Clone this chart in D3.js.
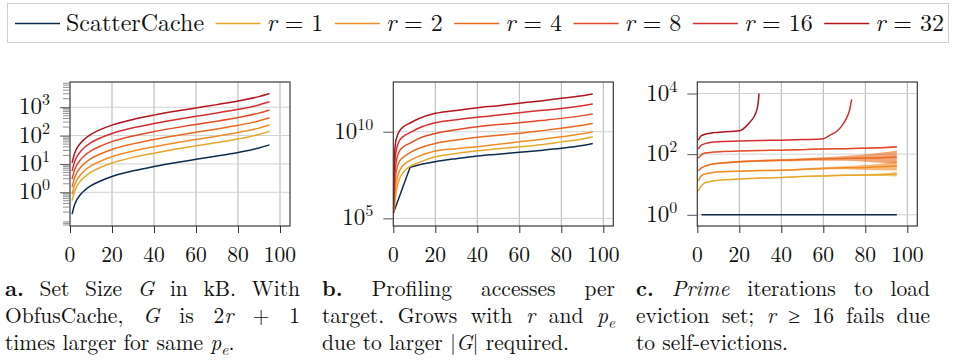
<!DOCTYPE html>
<html>
<head>
<meta charset="utf-8">
<script src="https://cdn.jsdelivr.net/npm/d3@7"></script>
<style>
  body { margin: 0; background: #fff; }
  svg { display: block; }
</style>
</head>
<body>
<svg id="chart" width="956" height="362"></svg>
<script>
// ---------- series & ticks ----------
const seriesNames  = ["ScatterCache", "r = 1", "r = 2", "r = 4", "r = 8", "r = 16", "r = 32"];
const seriesColors = ["#0c2c4e", "#e6a82a", "#ef8c24", "#ea6a1e", "#e24a28", "#d42e2e", "#b3141d"];
const xTicks = [0, 20, 40, 60, 80, 100];

// (a) set size G in kB
const setSizeX       = [1, 2, 3, 5, 7, 10, 15, 20, 30, 40, 50, 60, 70, 80, 90, 95];
const setSizeScatter = [0.17, 0.33, 0.5, 0.83, 1.17, 1.7, 2.6, 3.6, 5.7, 8.1, 11, 14.5, 19, 25.5, 36.5, 47];
const setSizeR1      = [0.51, 1.0, 1.5, 2.5, 3.5, 5.1, 7.8, 10.8, 17, 24, 33, 43.5, 57, 76, 110, 141];
const setSizeR2      = [0.85, 1.65, 2.5, 4.15, 5.85, 8.5, 13, 18, 28.5, 40.5, 55, 72.5, 95, 128, 183, 235];
const setSizeR4      = [1.53, 2.97, 4.5, 7.5, 10.5, 15.3, 23.4, 32.4, 51, 73, 99, 130, 171, 230, 329, 423];
const setSizeR8      = [2.9, 5.6, 8.5, 14.1, 19.9, 28.9, 44, 61, 97, 138, 187, 247, 323, 434, 620, 800];
const setSizeR16     = [5.6, 10.9, 16.5, 27.4, 38.6, 56, 86, 119, 188, 267, 363, 479, 627, 842, 1205, 1550];
const setSizeR32     = [11, 21.5, 32.5, 54, 76, 110, 169, 234, 370, 527, 715, 943, 1235, 1660, 2370, 3055];
const setSizeTicks   = [1, 10, 100, 1000];

// (b) profiling accesses per target
const profScatterX = [0, 8, 12, 20, 30, 40, 50, 60, 70, 80, 90, 95];
const profScatter  = [1.95e5, 8.9e7, 1.2e8, 1.86e8, 2.8e8, 4.0e8, 5.1e8, 6.5e8, 8.3e8, 1.1e9, 1.6e9, 2.1e9];
const profX   = [0, 0.5, 1, 2, 3, 5, 8, 12, 20, 30, 40, 50, 60, 70, 80, 90, 95];
const profR1  = [2.0e5, 4.0e5, 1.6e6, 7.9e6, 2.0e7, 5.0e7, 1.0e8, 1.66e8, 3.6e8, 5.6e8, 7.9e8, 1.05e9, 1.35e9, 1.8e9, 2.6e9, 3.8e9, 5.1e9];
const profR2  = [2.0e5, 7.9e5, 5.0e6, 2.5e7, 5.6e7, 1.26e8, 2.2e8, 3.8e8, 7.8e8, 1.05e9, 1.35e9, 1.9e9, 2.6e9, 3.6e9, 5.1e9, 7.6e9, 1.0e10];
const profR4  = [2.0e5, 2.5e6, 2.0e7, 1.0e8, 2.0e8, 3.5e8, 6.3e8, 1.07e9, 2.1e9, 3.3e9, 4.8e9, 6.3e9, 8.1e9, 1.12e10, 1.6e10, 2.4e10, 3.0e10];
const profR8  = [2.0e5, 1.0e7, 7.9e7, 4.0e8, 7.9e8, 1.4e9, 2.2e9, 4.0e9, 7.9e9, 1.3e10, 1.95e10, 2.6e10, 3.3e10, 4.4e10, 5.9e10, 8.5e10, 1.05e11];
const profR16 = [2.0e5, 5.0e7, 4.0e8, 1.6e9, 3.2e9, 5.6e9, 8.9e9, 1.6e10, 3.3e10, 4.9e10, 6.8e10, 9.1e10, 1.26e11, 1.66e11, 2.2e11, 3.2e11, 4.0e11];
const profR32 = [2.0e5, 2.5e8, 2.0e9, 6.3e9, 1.12e10, 2.0e10, 3.2e10, 5.6e10, 1.15e11, 1.7e11, 2.4e11, 3.2e11, 4.4e11, 6.0e11, 8.5e11, 1.2e12, 1.5e12];
const profTicks = [1e5, 1e10];

// (c) prime iterations to load the eviction set (with spread of the noisy runs)
const primeScatterX = [2, 20, 40, 60, 80, 95];
const primeScatter  = [1, 1, 1, 1, 1, 1];
const primeX   = [0.5, 1.5, 3, 5, 8, 12, 20, 30, 40, 50, 60, 70, 80, 90, 95];
const primeR1  = [6.0, 8.3, 10.7, 12.0, 13.2, 14.1, 15.1, 16.2, 17.0, 18.2, 19.1, 20.0, 20.4, 21.4, 21.9];
const primeR2  = [13, 18, 21.4, 23.4, 25.1, 26.3, 27.5, 28.8, 29.5, 31.6, 33.9, 35.5, 36.3, 38.9, 40.7];
const primeR4  = [28, 33, 38, 43, 47.9, 51.3, 56.2, 60.3, 63.1, 66.1, 69.2, 72.4, 74.1, 77.6, 81.3];
const primeR8  = [72, 91, 105, 112, 117, 123, 126, 132, 135, 141, 148, 151, 158, 166, 174];
const primeSpreadR1 = [1, 1, 1, 1, 1.01, 1.02, 1.03, 1.03, 1.04, 1.04, 1.05, 1.06, 1.08, 1.12, 1.2];
const primeSpreadR2 = [1, 1, 1, 1.01, 1.02, 1.03, 1.04, 1.05, 1.06, 1.07, 1.09, 1.12, 1.2, 1.32, 1.42];
const primeSpreadR4 = [1, 1, 1.01, 1.03, 1.04, 1.05, 1.07, 1.08, 1.09, 1.11, 1.14, 1.2, 1.32, 1.52, 1.62];
const primeSpreadR8 = [1, 1, 1, 1, 1.01, 1.01, 1.02, 1.02, 1.02, 1.03, 1.03, 1.04, 1.05, 1.06, 1.07];
const primeR16X = [0.5, 1.5, 3, 5, 8, 12, 20, 30, 40, 50, 60, 63, 67, 69, 71, 72.5, 73.5];
const primeR16  = [148, 186, 214, 234, 251, 263, 269, 282, 288, 302, 324, 417, 617, 891, 1514, 2818, 6457];
const primeR32X = [0.5, 1.5, 3, 5, 8, 12, 16, 20, 20.5, 23, 25, 27.5, 28.5, 29, 29.4];
const primeR32  = [288, 380, 437, 479, 513, 537, 562, 589, 603, 794, 1122, 1995, 3162, 5012, 10000];
const primeTicks = [1, 100, 10000];

// captions (markup: **bold**, *italic*, _x subscript)
const captionA = ["**a.** Set Size *G* in kB. With", "ObfusCache, *G* is 2*r* + 1", "times larger for same *p*_e."];
const captionB = ["**b.** Profiling accesses per", "target. Grows with *r* and *p*_e", "due to larger |*G*| required."];
const captionC = ["**c.** *Prime* iterations to load", "eviction set; *r* ≥ 16 fails due", "to self-evictions."];

// ---------- layout ----------
const FONT = "Latin Modern Roman";
const svg = d3.select("#chart");
const plotTop = 82, plotBottom = 226, plotWidth = 220;
const xDomain = [0, 220 / 2.1];
const CAP_SIZE = 21.5, LEG_SIZE = 24, TICK_SIZE = 21.5, YLAB_SIZE = 23;
const legendLeft = 15, legendRight = 944;

// ---------- rich text helpers ----------
function parseRich(str) {
  const re = /(\*\*[^*]+\*\*|\*[^*]+\*|_[a-z])/g;
  return str.split(re).filter(p => p !== "").map(p => {
    if (p.startsWith("**")) return { t: p.slice(2, -2), s: "b" };
    if (p.startsWith("*"))  return { t: p.slice(1, -1), s: "i" };
    if (p.startsWith("_"))  return { t: p.slice(1), s: "sub" };
    return { t: p, s: "" };
  });
}
// append styled tspans for one word; the first tspan may be placed absolutely
function addSegs(t, segs, size, pos) {
  let shift = 0;
  segs.forEach((sg, k) => {
    const ts = t.append("tspan").text(sg.t);
    if (k === 0 && pos) ts.attr("x", pos.x).attr("y", pos.y);
    let target = 0;
    if (sg.s === "b") ts.attr("font-weight", "bold");
    if (sg.s === "i") ts.attr("font-style", "italic");
    if (sg.s === "sub") { ts.attr("font-style", "italic").attr("font-size", size * 0.72); target = size * 0.22; }
    if (target !== shift) { ts.attr("dy", target - shift); shift = target; }
  });
}
function newText(parent, size) {
  return parent.append("text").attr("font-size", size).attr("font-family", FONT).attr("fill", "#111");
}
function measure(segs, size) {
  const t = newText(svg, size);
  addSegs(t, segs, size, null);
  const w = t.node().getComputedTextLength();
  t.remove();
  return w;
}

// ---------- legend ----------
const legend = svg.append("g");
legend.append("rect").attr("x", 7.5).attr("y", 3.5).attr("width", 941).attr("height", 39)
  .attr("fill", "none").attr("stroke", "#cfcfcf").attr("stroke-width", 1);
const legendSegs = seriesNames.map(n => parseRich(n.startsWith("r ") ? "*r*" + n.slice(1) : n));
const legendW = legendSegs.map(s => measure(s, LEG_SIZE));
const legendGap = (legendRight - legendLeft - d3.sum(legendW) - seriesNames.length * 51) / (seriesNames.length - 1);
let lx = legendLeft;
legendSegs.forEach((segs, i) => {
  legend.append("line").attr("x1", lx).attr("x2", lx + 45).attr("y1", 23.5).attr("y2", 23.5)
    .attr("stroke", seriesColors[i]).attr("stroke-width", 1.5);
  addSegs(newText(legend, LEG_SIZE), segs, LEG_SIZE, { x: lx + 51, y: 31 });
  lx += 51 + legendW[i] + legendGap;
});

// ---------- panels ----------
function powLabel(parent, x, y, exp) {
  const t = newText(parent, YLAB_SIZE).attr("x", x).attr("y", y).attr("text-anchor", "end");
  t.append("tspan").text("10");
  t.append("tspan").text(String(exp)).attr("font-size", 16).attr("dy", -9);
}

function drawPanel(cfg) {
  const x = d3.scaleLinear().domain(xDomain).range([cfg.left, cfg.left + plotWidth]);
  const y = d3.scaleLog().domain(cfg.yDomain).range([plotBottom, plotTop]);
  const g = svg.append("g");
  const clipId = "clip-" + cfg.key;
  g.append("clipPath").attr("id", clipId).append("rect")
    .attr("x", cfg.left).attr("y", plotTop).attr("width", plotWidth).attr("height", plotBottom - plotTop);

  // grid
  g.selectAll(null).data(xTicks.filter(v => v > 0)).join("line")
    .attr("x1", d => x(d)).attr("x2", d => x(d)).attr("y1", plotTop).attr("y2", plotBottom)
    .attr("stroke", "#b4b4b4").attr("stroke-width", 1);
  g.selectAll(null).data(cfg.major).join("line")
    .attr("x1", cfg.left).attr("x2", cfg.left + plotWidth).attr("y1", d => y(d)).attr("y2", d => y(d))
    .attr("stroke", "#d2d2d2").attr("stroke-width", 1);

  const plot = g.append("g").attr("clip-path", `url(#${clipId})`);

  // spread bands
  (cfg.bands || []).forEach(b => {
    const pts = b.x.map((xv, i) => ({ x: xv, lo: b.y[i] / b.s[i], hi: b.y[i] * b.s[i] }));
    plot.append("path").datum(pts)
      .attr("d", d3.area().x(d => x(d.x)).y0(d => y(d.lo)).y1(d => y(d.hi)).curve(d3.curveMonotoneX))
      .attr("fill", b.color).attr("opacity", 0.6);
  });

  // lines
  cfg.series.forEach(s => {
    const pts = s.x.map((xv, i) => ({ x: xv, y: s.y[i] }));
    plot.append("path").datum(pts)
      .attr("d", d3.line().x(d => x(d.x)).y(d => y(d.y)).curve(s.linear ? d3.curveLinear : d3.curveMonotoneX))
      .attr("fill", "none").attr("stroke", s.color).attr("stroke-width", 1.5);
  });

  // frame
  g.append("rect").attr("x", cfg.left).attr("y", plotTop).attr("width", plotWidth).attr("height", plotBottom - plotTop)
    .attr("fill", "none").attr("stroke", "#3a3a3a").attr("stroke-width", 1.2);

  // x axis ticks and labels
  const xa = g.append("g").attr("transform", `translate(0,${plotBottom})`)
    .call(d3.axisBottom(x).tickValues(xTicks).tickSize(7).tickFormat(""))
    .attr("color", "#333");
  xa.select(".domain").remove();
  g.selectAll(null).data(xTicks).join("text")
    .attr("x", d => x(d)).attr("y", 261.5).attr("text-anchor", "middle")
    .attr("font-size", TICK_SIZE).attr("font-family", FONT).attr("fill", "#111")
    .text(d => d);

  // y axis ticks
  const ya = g.append("g").attr("transform", `translate(${cfg.left},0)`)
    .call(d3.axisLeft(y).tickValues(cfg.major).tickSize(10).tickFormat(""))
    .attr("color", "#555");
  ya.select(".domain").remove();
  if (cfg.minor) {
    const minor = [];
    for (let k = -2; k <= 4; k++) for (let m = 2; m <= 9; m++) {
      const v = m * Math.pow(10, k);
      if (v > cfg.yDomain[0] && v < cfg.yDomain[1]) minor.push(v);
    }
    g.selectAll(null).data(minor).join("line")
      .attr("x1", cfg.left - 7).attr("x2", cfg.left).attr("y1", d => y(d)).attr("y2", d => y(d))
      .attr("stroke", "#777").attr("stroke-width", 0.8);
  }
  cfg.major.forEach(v => powLabel(g, cfg.left - 20, y(v) + 7, Math.round(Math.log10(v))));
}

drawPanel({
  key: "a", left: 70, yDomain: [Math.pow(10, -1.19), Math.pow(10, 3.89)], major: setSizeTicks, minor: true,
  series: [setSizeScatter, setSizeR1, setSizeR2, setSizeR4, setSizeR8, setSizeR16, setSizeR32]
    .map((v, i) => ({ x: setSizeX, y: v, color: seriesColors[i] }))
});

drawPanel({
  key: "b", left: 393.3, yDomain: [Math.pow(10, 4.56), Math.pow(10, 12.87)], major: profTicks, minor: false,
  series: [{ x: profScatterX.slice(0, 2), y: profScatter.slice(0, 2), color: seriesColors[0], linear: true },
           { x: profScatterX.slice(1), y: profScatter.slice(1), color: seriesColors[0] }]
    .concat([profR1, profR2, profR4, profR8, profR16, profR32].map((v, i) => ({ x: profX, y: v, color: seriesColors[i + 1] })))
});

drawPanel({
  key: "c", left: 697.3, yDomain: [Math.pow(10, -0.37), Math.pow(10, 4.38)], major: primeTicks, minor: false,
  bands: [
    { x: primeX, y: primeR1, s: primeSpreadR1, color: seriesColors[1] },
    { x: primeX, y: primeR2, s: primeSpreadR2, color: seriesColors[2] },
    { x: primeX, y: primeR4, s: primeSpreadR4, color: seriesColors[3] },
    { x: primeX, y: primeR8, s: primeSpreadR8, color: seriesColors[4] }
  ],
  series: [
    { x: primeScatterX, y: primeScatter, color: seriesColors[0] },
    { x: primeX, y: primeR1, color: seriesColors[1] },
    { x: primeX, y: primeR2, color: seriesColors[2] },
    { x: primeX, y: primeR4, color: seriesColors[3] },
    { x: primeX, y: primeR8, color: seriesColors[4] },
    { x: primeR16X, y: primeR16, color: seriesColors[5] },
    { x: primeR32X, y: primeR32, color: seriesColors[6] }
  ]
});

// ---------- captions: one text per line, words placed for full justification ----------
function caption(lines, x0, width, baselines) {
  const g = svg.append("g");
  lines.forEach((line, i) => {
    const words = line.split(" ").map(w => parseRich(w));
    const widths = words.map(s => measure(s, CAP_SIZE));
    const total = d3.sum(widths);
    const justify = i < lines.length - 1 && words.length > 1;
    const gap = justify ? (width - total) / (words.length - 1) : CAP_SIZE * 0.333;
    const t = newText(g, CAP_SIZE);
    let cx = x0;
    words.forEach((segs, k) => {
      addSegs(t, segs, CAP_SIZE, { x: cx, y: baselines[i] });
      cx += widths[k] + gap;
    });
  });
}
const capBaselines = [296, 323, 350];
caption(captionA, 5, 295, capBaselines);
caption(captionB, 322, 293, capBaselines);
caption(captionC, 636, 294, capBaselines);
</script>
</body>
</html>
